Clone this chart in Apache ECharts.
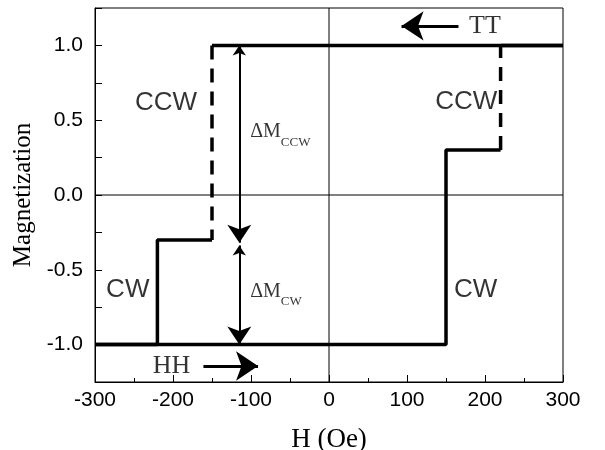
<!DOCTYPE html>
<html><head><meta charset="utf-8">
<script src="https://cdn.jsdelivr.net/npm/echarts@6/dist/echarts.min.js"></script>
<style>html,body{margin:0;padding:0;background:#fff}#c{width:605px;height:450px}</style>
</head><body><div id="c"></div>
<script>
// Data (H in Oe, normalized magnetization)
const xTicks = [-300, -200, -100, 0, 100, 200, 300];
const yTicks = [-1.0, -0.5, 0.0, 0.5, 1.0];
// solid branches
const lowerBranch = [[-300, -1], [150, -1], [150, 0.3], [220, 0.3]];
const rightTop = [[220, 1], [300, 1]];
const upperBranch = [[300, 1], [-150, 1]];
const leftStep = [[-150, -0.3], [-220, -0.3], [-220, -1], [-300, -1]];
// dashed switching segments
const dashRight = [[220, 0.3], [220, 1]];
const dashLeft = [[-150, 1], [-150, -0.3]];
// reference lines
const zeroV = [[0, -1.25], [0, 1.25]];
const zeroH = [[-300, 0], [300, 0]];
// arrows
const arrowCCW = [[-115, 1], [-115, -0.32]];
const arrowCW = [[-115, -0.337], [-115, -1]];
const arrowHH = [[-161, -1.143], [-91, -1.143]];
const arrowTT = [[166, 1.13], [93, 1.13]];
// text annotations
const sansLabels = [
  {name: 'CCW', value: [-209, 0.617]},
  {name: 'CW', value: [-258, -0.637]},
  {name: 'CCW', value: [176, 0.623]},
  {name: 'CW', value: [188, -0.637]}
];
const serifLabels = [
  {name: 'HH', value: [-202, -1.143]},
  {name: 'TT', value: [200, 1.13]}
];
const deltaLabels = [
  {name: 'CCW', value: [-101, 0.40]},
  {name: 'CW', value: [-101, -0.667]}
];

const chart = echarts.init(document.getElementById('c'));
const black = '#000';
function solid(d, w) { return {type: 'line', data: d, symbol: 'none', silent: true, lineStyle: {color: black, width: w}, z: 3}; }
function dashed(d) { return {type: 'line', data: d, symbol: 'none', silent: true, lineStyle: {color: black, width: 3.5, type: [14, 9]}, z: 3}; }
function arrow(d, both) {
  return {type: 'lines', coordinateSystem: 'cartesian2d', silent: true, z: 4,
    symbol: both ? ['arrow', 'arrow'] : ['none', 'arrow'], symbolSize: both ? [10, 18] : [12, 22],
    lineStyle: {color: black, width: both ? 2 : 3, opacity: 1},
    data: [{coords: d}]};
}
chart.setOption({
  animation: false,
  grid: {left: 95, right: 42, top: 8, bottom: 68, show: true, borderColor: black, borderWidth: 1,
    backgroundColor: 'transparent', containLabel: false, outerBoundsMode: 'none'},
  xAxis: {
    type: 'value', min: -300, max: 300, interval: 100,
    name: 'H (Oe)', nameLocation: 'middle', nameGap: 44,
    nameTextStyle: {fontFamily: 'Liberation Serif', fontSize: 27, color: black},
    axisLine: {onZero: false, lineStyle: {color: black, width: 1}},
    axisTick: {inside: true, length: 7, lineStyle: {color: black}},
    minorTick: {show: true, splitNumber: 2, length: 4, lineStyle: {color: black}},
    splitLine: {show: false},
    axisLabel: {fontFamily: 'Liberation Sans', fontSize: 21, color: black, margin: 8,
      formatter: v => xTicks.includes(v) ? String(v) : ''}
  },
  yAxis: {
    type: 'value', min: -1.25, max: 1.25, interval: 0.25,
    name: 'Magnetization', nameLocation: 'middle', nameGap: 47,
    nameTextStyle: {fontFamily: 'Liberation Serif', fontSize: 25, color: black},
    axisLine: {onZero: false, lineStyle: {color: black, width: 1}},
    axisTick: {inside: true, length: 7, lineStyle: {color: black}},
    splitLine: {show: false},
    axisLabel: {fontFamily: 'Liberation Sans', fontSize: 21, color: black, margin: 12,
      formatter: v => { const t = yTicks.find(t => Math.abs(t - v) < 1e-9); return t === undefined ? '' : t.toFixed(1); }}
  },
  series: [
    {type: 'line', data: zeroV, symbol: 'none', silent: true, lineStyle: {color: black, width: 1}, z: 2},
    {type: 'line', data: zeroH, symbol: 'none', silent: true, lineStyle: {color: black, width: 1}, z: 2},
    solid(lowerBranch, 3.5), solid(rightTop, 3.5), solid(upperBranch, 3.5), solid(leftStep, 3.5),
    dashed(dashRight), dashed(dashLeft),
    arrow(arrowCCW, true), arrow(arrowCW, true), arrow(arrowHH, false), arrow(arrowTT, false),
    {type: 'scatter', data: sansLabels, symbolSize: 0, silent: true, z: 5,
      label: {show: true, position: 'inside', formatter: p => p.name, fontFamily: 'Liberation Sans', fontSize: 26, color: black}},
    {type: 'scatter', data: serifLabels, symbolSize: 0, silent: true, z: 5,
      label: {show: true, position: 'inside', formatter: p => p.name, fontFamily: 'Liberation Serif', fontSize: 26, color: black}},
    {type: 'scatter', data: deltaLabels, symbolSize: 0, silent: true, z: 5,
      label: {show: true, position: 'right', distance: 0, formatter: p => '{a|ΔM}{b|' + p.name + '}',
        rich: {a: {fontFamily: 'Liberation Serif', fontSize: 20, color: black, verticalAlign: 'top', lineHeight: 20},
               b: {fontFamily: 'Liberation Serif', fontSize: 13, color: black, verticalAlign: 'bottom', lineHeight: 27}}}}
  ]
});
</script></body></html>
